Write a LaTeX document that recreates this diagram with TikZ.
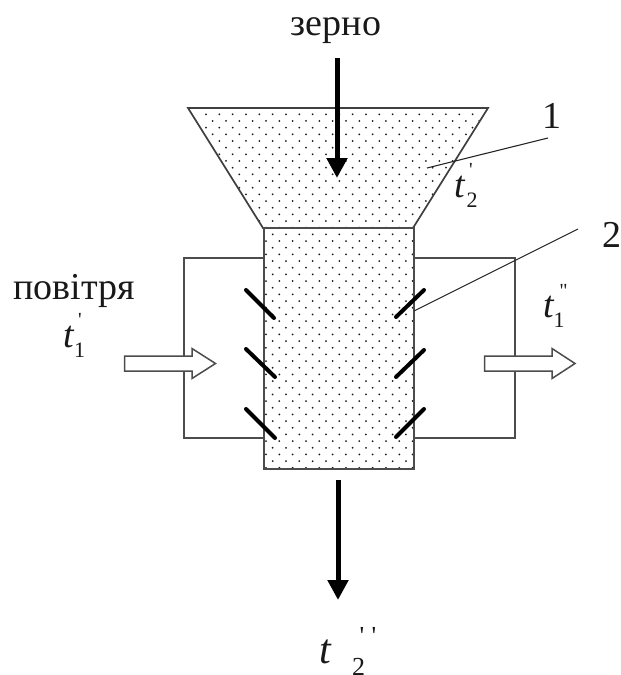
\documentclass[tikz,border=0pt]{standalone}
\usepackage{fontspec}
\setmainfont{Liberation Serif}
\newfontfamily\plainprime{Liberation Serif}
\usetikzlibrary{arrows.meta}
\tikzset{
  x=1pt,y=-1pt,
  wall/.style={draw=black!70,line width=2.6pt,line join=miter},
  hopperline/.style={draw=black!75,line width=1.7pt,line join=miter},
  casing/.style={draw=black!70,line width=1.8pt},
  baffle/.style={draw=black,line width=4pt,line cap=round},
  leader/.style={draw=black!85,line width=1.1pt},
  flow/.style={draw=black,line width=5pt,-{Triangle[length=20pt,width=20pt]}},
  hollow/.style={draw=black!70,fill=white,line width=1.5pt,line join=miter},
  lbl/.style={inner sep=0pt,anchor=base,font=\fontsize{38}{38}\selectfont,text=black!90},
  var/.style={inner sep=0pt,anchor=base,font=\fontsize{38}{38}\selectfont\itshape,text=black!90},
  sub/.style={inner sep=0pt,anchor=base,font=\fontsize{22}{22}\selectfont,text=black!90},
  prim/.style={inner sep=0pt,anchor=base,font=\fontsize{20}{20}\selectfont\plainprime,text=black!90},
}
\newcommand{\dotfield}{%
  \foreach \r in {0,...,56}{%
    \pgfmathsetmacro{\yy}{114.3+6.67*\r}%
    \pgfmathsetmacro{\xs}{mod(\r,2)==0 ? 206 : 212.67}%
    \foreach \c in {0,...,21}{%
      \fill[black!90] ({\xs+13.33*\c},\yy) circle (1pt);%
    }%
  }%
}
\begin{document}
\begin{tikzpicture}
\useasboundingbox (0,0) rectangle (621,675);
% casing behind
\draw[casing] (264,258) -- (184,258) -- (184,438) -- (264,438);
\draw[casing] (414,258) -- (515,258) -- (515,438) -- (414,438);
% grain dots
\begin{scope}
\clip (188,108) -- (488,108) -- (414,228) -- (414,469) -- (264,469) -- (264,228) -- cycle;
\dotfield
\end{scope}
% hopper and shaft
\draw[hopperline] (188,108) -- (488,108) -- (413,228) -- (263,228) -- cycle;
\draw[wall] (264,228) rectangle (414,469);
% baffles
\draw[baffle] (246,290) -- (274,318);
\draw[baffle] (246,349) -- (275,377);
\draw[baffle] (246,409) -- (275,438);
\draw[baffle] (396,317) -- (424,290);
\draw[baffle] (396,377) -- (424,350);
\draw[baffle] (396,437) -- (424,409);
% flows
\coordinate (grainin) at (337,58);
\coordinate (grainend) at (337,178);
\coordinate (grainout) at (338,480);
\coordinate (grainoutend) at (338,600);
\draw[flow] (grainin) -- (grainend);
\draw[flow] (grainout) -- (grainoutend);
\draw[hollow] (124.5,356) -- (192,356) -- (192,348.5) -- (215.5,363.5) -- (192,378.5) -- (192,371) -- (124.5,371) -- cycle;
\draw[hollow] (484.5,356) -- (552,356) -- (552,348.5) -- (575,363.5) -- (552,378.5) -- (552,371) -- (484.5,371) -- cycle;
% labels
\node[lbl] (zerno) at (336,35) {зерно};
\node[lbl] (povitria) at (74,299) {повітря};
\node[lbl] (one) at (552,128) {1};
\node[lbl] (two) at (612,247) {2};
\node[var] (t21) at (460,197) {t};
\node[sub] (t21s) at (472,207) {2};
\node[prim] (t21p) at (471,176.6) {'};
\node[var] (t11) at (69,347) {t};
\node[sub] (t11s) at (79.5,357) {1};
\node[prim] (t11p) at (80,326.6) {'};
\node[var] (t12) at (549,317) {t};
\node[sub] (t12s) at (559,327) {1};
\node[prim] (t12p) at (563.5,297.6) {''};
\node[var,font=\fontsize{42}{42}\selectfont\itshape] (t22) at (325,663) {t};
\begin{scope}
\clip (0,0) rectangle (621,675);
\node[sub,font=\fontsize{26}{26}\selectfont] (t22s) at (358.5,675) {2};
\end{scope}
\node[prim,font=\fontsize{26}{26}\selectfont\plainprime] (t22pa) at (362,644) {'};
\node[prim,font=\fontsize{26}{26}\selectfont\plainprime] (t22pb) at (374,644) {'};
% leaders
\coordinate (l1a) at (427,168);
\coordinate (l1b) at (548,138);
\coordinate (l2a) at (414,311);
\coordinate (l2b) at (578,229);
\draw[leader] (l1a) -- (l1b);
\draw[leader] (l2a) -- (l2b);
\end{tikzpicture}
\end{document}
